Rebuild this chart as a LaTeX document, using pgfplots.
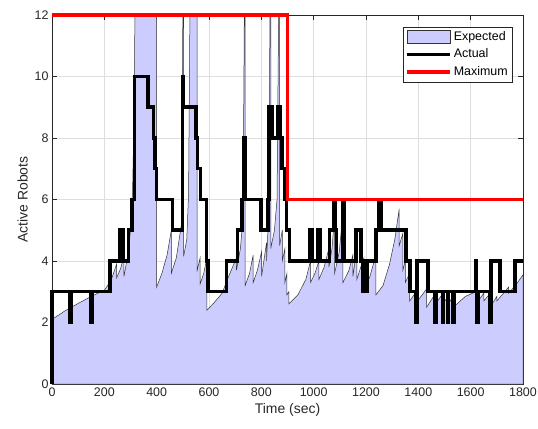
\documentclass[border=0pt]{standalone}
\usepackage{pgfplots}
\pgfplotsset{compat=1.18}
\usepackage{fontspec}
\setmainfont{Liberation Sans}

\definecolor{axgray}{rgb}{0.15,0.15,0.15}
\definecolor{fillblue}{rgb}{0.8,0.8,1}
\definecolor{gridgray}{rgb}{0.87,0.87,0.87}

\pgfplotsset{
    arealeg/.style={legend image code/.code={\draw[##1] (0bp,-6.5bp) rectangle (43bp,6.5bp);}},
    lineleg/.style={legend image code/.code={\draw[##1] (0bp,0bp) -- (43bp,0bp);}}
}

\begin{document}
\begin{tikzpicture}
\useasboundingbox (-52bp,-45bp) rectangle (486bp,384bp);
\begin{axis}[
    scale only axis,
    width=471bp, height=369bp,
    xmin=0, xmax=1800,
    ymin=0, ymax=12,
    xtick={0,200,...,1800},
    ytick={0,2,...,12},
    clip=false,
    grid=major,
    grid style={gridgray, line width=0.5bp},
    axis line style={axgray, line width=0.5bp},
    tick style={axgray, line width=0.5bp},
    tick align=inside,
    major tick length=5bp,
    /pgf/number format/assume math mode=true,
    /pgf/number format/1000 sep={},
    ticklabel style={font=\fontsize{12.5}{14}\selectfont, text=axgray},
    label style={font=\fontsize{14}{16}\selectfont, text=axgray},
    xlabel={Time (sec)},
    ylabel={Active Robots},
    legend style={
        at={(1,1)}, anchor=north east,
        xshift=-11bp, yshift=-12bp,
        draw=axgray, line width=0.5bp, fill=white,
        font=\fontsize{12.5}{14}\selectfont,
        inner xsep=2bp, inner ysep=2bp,
        row sep=1.5bp,
        nodes={inner sep=2bp, text height=9bp, text depth=3bp},
        legend cell align=left
    }
]

% Expected (area)
\addplot[fill=fillblue, draw=black!80, line width=0.5bp, arealeg] coordinates {
    (0,2.10) (50,2.38) (100,2.62) (150,2.85) (200,3.05) (225,3.35) (247,3.90)
    (247,3.45) (262,3.75) (275,4.15) (275,3.50) (290,4.20) (300,5.00) (308,6.30)
    (313,8.50) (317,12) (400,12) (400,3.15) (420,3.60) (440,4.20) (456,5.00)
    (456,3.60) (475,4.10) (495,5.20) (500,12) (503,12) (503,4.15) (515,4.70)
    (522,6.20) (527,12) (555,12) (555,3.70) (566,4.10) (566,3.25) (580,3.60)
    (592,4.10) (592,2.40) (620,2.65) (650,2.95) (675,3.50) (705,4.10) (705,3.70)
    (720,4.40) (730,5.40) (735,12) (738,12) (738,3.20) (755,3.60) (769,4.20)
    (769,3.30) (785,3.70) (801,4.30) (801,3.50) (820,4.60) (820,4.00) (828,5.50)
    (833,12) (836,12) (836,4.40) (850,5.00) (860,6.00) (866,12) (870,12)
    (870,4.50) (880,5.00) (880,4.00) (890,4.40) (890,3.30) (898,3.60) (898,2.90)
    (905,3.00) (905,2.60) (940,2.90) (970,3.40) (988,4.00) (988,3.30) (1005,3.60)
    (1020,4.00) (1020,3.40) (1040,3.80) (1058,4.40) (1058,3.80) (1070,4.40)
    (1080,5.50) (1080,3.60) (1098,4.30) (1112,5.60) (1112,3.30) (1135,3.70)
    (1150,4.20) (1150,3.50) (1165,4.40) (1165,3.40) (1180,3.80) (1192,4.10)
    (1192,3.00) (1215,3.50) (1238,4.20) (1238,2.90) (1265,3.20) (1290,3.90)
    (1310,4.70) (1327,5.70) (1327,4.50) (1341,4.90) (1341,3.70) (1350,4.00)
    (1350,3.30) (1367,3.60) (1367,2.70) (1392,3.00) (1392,2.65) (1415,2.90)
    (1432,3.10) (1432,2.50) (1462,2.90) (1462,2.55) (1494,2.95) (1494,2.60)
    (1513,2.85) (1513,2.55) (1534,2.90) (1534,2.50) (1580,2.85) (1620,3.00)
    (1620,2.60) (1650,2.95) (1650,2.70) (1675,2.95) (1675,2.50) (1700,2.85)
    (1700,2.70) (1725,2.95) (1745,3.15) (1745,2.95) (1775,3.25) (1800,3.55)
} \closedcycle;
\addlegendentry{Expected}

% Actual
\addplot[black, line width=3.5bp, lineleg] coordinates {
    (0,0) (0,3) (68,3) (68,2) (74,2) (74,3) (148,3) (148,2) (154,2) (154,3)
    (221,3) (221,4) (258,4) (258,5) (262,5) (262,4) (265,4) (265,5) (272,5)
    (272,4) (293,4) (293,5) (306,5) (306,6) (316,6) (316,10) (366,10) (366,9)
    (388,9) (388,8) (393,8) (393,7) (399,7) (399,6) (460,6) (460,5) (499,5)
    (499,10) (503,10) (503,9) (551,9) (551,8) (556,8) (556,7) (568,7) (568,6)
    (591,6) (591,4) (596,4) (596,3) (667,3) (667,4) (709,4) (709,5) (726,5)
    (726,6) (733,6) (733,8) (737,8) (737,6) (799,6) (799,5) (826,5) (826,6)
    (830,6) (830,9) (842,9) (842,8) (861,8) (861,9) (874,9) (874,8) (879,8)
    (879,7) (890,7) (890,6) (896,6) (896,5) (908,5) (908,4) (986,4) (986,5)
    (995,5) (995,4) (1016,4) (1016,5) (1024,5) (1024,4) (1060,4) (1060,5)
    (1077,5) (1077,6) (1083,6) (1083,5) (1087,5) (1087,4) (1110,4) (1110,6)
    (1118,6) (1118,4) (1162,4) (1162,5) (1181,5) (1181,4) (1188,4) (1188,3)
    (1204,3) (1204,4) (1238,4) (1238,5) (1250,5) (1250,6) (1258,6) (1258,5)
    (1352,5) (1352,4) (1368,4) (1368,3) (1389,3) (1389,2) (1395,2) (1395,4)
    (1437,4) (1437,3) (1462,3) (1462,2) (1467,2) (1467,3) (1492,3) (1492,2)
    (1497,2) (1497,3) (1511,3) (1511,2) (1516,2) (1516,3) (1531,3) (1531,2)
    (1536,2) (1536,3) (1619,3) (1619,4) (1623,4) (1623,2) (1628,2) (1628,3)
    (1673,3) (1673,2) (1678,2) (1678,4) (1712,4) (1712,3) (1770,3) (1770,4)
    (1800,4)
};
\addlegendentry{Actual}

% Maximum
\addplot[red, line width=3.5bp, lineleg] coordinates {
    (0,12) (900,12) (900,6) (1800,6)
};
\addlegendentry{Maximum}

\end{axis}
\end{tikzpicture}
\end{document}
